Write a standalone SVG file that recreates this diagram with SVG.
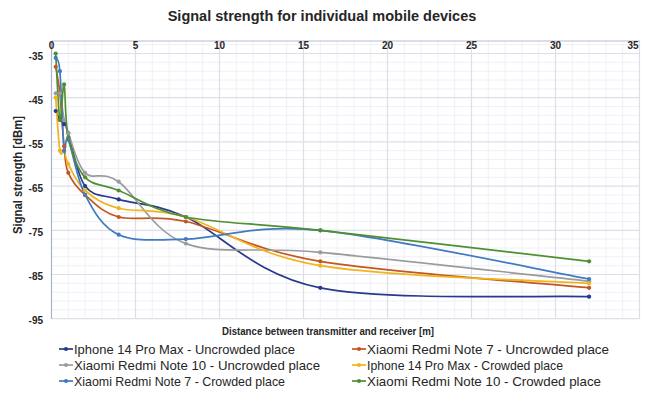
<svg xmlns="http://www.w3.org/2000/svg" width="645" height="394" viewBox="0 0 645 394">
<style>
text{font-family:"Liberation Sans",Arial,sans-serif;fill:#262626}
.t{font-size:14.5px;font-weight:bold;text-anchor:middle}
.ax{font-size:11.5px;font-weight:bold}
.tk{font-size:10px;font-weight:bold}
.tx{text-anchor:middle}
.ty{text-anchor:end}
.lg{font-size:13px}
.mn{stroke:#eef0f6;stroke-width:1}
.mj{stroke:#dcdfe9;stroke-width:1.2}
.s{fill:none;stroke-width:1.7}
.nv{stroke:#283a8c}.nvf{fill:#283a8c}
.rd{stroke:#c4561f}.rdf{fill:#c4561f}
.gr{stroke:#9b9b9b}.grf{fill:#9b9b9b}
.yl{stroke:#f0b41c}.ylf{fill:#f0b41c}
.bl{stroke:#3f7ac2}.blf{fill:#3f7ac2}
.gn{stroke:#4f8f31}.gnf{fill:#4f8f31}
</style>
<defs>
<g id="m"><circle r="2.1"/></g>
</defs>
<rect width="645" height="394" fill="#fff"/>
<text class="t" x="322" y="21">Signal strength for individual mobile devices</text>
<g id="grid">
<g class="mn">
<path d="M68.3 41V319M85.1 41V319M101.9 41V319M118.7 41V319M152.3 41V319M169.1 41V319M185.9 41V319M202.7 41V319M236.3 41V319M253.1 41V319M269.9 41V319M286.7 41V319M320.3 41V319M337.1 41V319M353.9 41V319M370.7 41V319M404.3 41V319M421.1 41V319M437.9 41V319M454.7 41V319M488.3 41V319M505.1 41V319M521.9 41V319M538.7 41V319M572.3 41V319M589.1 41V319M605.9 41V319M622.7 41V319"/>
<path d="M51.5 44.7H640M51.5 62.3H640M51.5 71.2H640M51.5 80.0H640M51.5 88.9H640M51.5 106.6H640M51.5 115.4H640M51.5 124.2H640M51.5 133.1H640M51.5 150.7H640M51.5 159.6H640M51.5 168.4H640M51.5 177.3H640M51.5 194.9H640M51.5 203.8H640M51.5 212.6H640M51.5 221.5H640M51.5 239.1H640M51.5 248.0H640M51.5 256.8H640M51.5 265.7H640M51.5 283.3H640M51.5 292.2H640M51.5 301.0H640M51.5 309.9H640"/>
</g>
<g class="mj">
<path d="M135.5 41V319M219.5 41V319M303.5 41V319M387.5 41V319M471.5 41V319M555.5 41V319M639.5 41V319"/>
<path d="M51.5 53.5H640M51.5 97.7H640M51.5 141.9H640M51.5 186.1H640M51.5 230.3H640M51.5 274.5H640M51.5 318.7H640"/>
</g>
<path d="M51.5 41H640" stroke="#b5bdd3" stroke-width="1.2"/>
<path d="M51.5 41V319" stroke="#a9b3cd" stroke-width="1.2"/>
</g>
<g id="ticks" class="tk">
<text class="tx" x="51.5" y="49">0</text>
<text class="tx" x="135.5" y="49">5</text>
<text class="tx" x="219.5" y="49">10</text>
<text class="tx" x="303.5" y="49">15</text>
<text class="tx" x="387.5" y="49">20</text>
<text class="tx" x="471.5" y="49">25</text>
<text class="tx" x="555.5" y="49">30</text>
<text class="tx" x="633" y="49">35</text>
<text class="ty" x="43" y="59.5">-35</text>
<text class="ty" x="43" y="103.5">-45</text>
<text class="ty" x="43" y="147.5">-55</text>
<text class="ty" x="43" y="191.5">-65</text>
<text class="ty" x="43" y="235.5">-75</text>
<text class="ty" x="43" y="279.5">-85</text>
<text class="ty" x="43" y="323.5">-95</text>
</g>
<text class="ax" transform="translate(21.5 175) rotate(-90)" text-anchor="middle" style="font-size:12.5px" textLength="118" lengthAdjust="spacingAndGlyphs">Signal strength [dBm]</text>
<text class="ax" x="328" y="335" text-anchor="middle" textLength="212" lengthAdjust="spacingAndGlyphs">Distance between transmitter and receiver [m]</text>
<g id="connectors">
<path id="s-navy" class="s nv" d="M55.7 111.0C56.4 112.5 58.5 117.6 59.9 119.8C61.3 122.0 62.7 122.0 64.1 124.2C65.5 126.4 64.8 122.8 68.3 133.1C71.8 143.4 76.7 175.1 85.1 186.1C93.5 197.2 101.9 194.3 118.7 199.4C135.5 204.6 152.3 202.3 185.9 217.0C219.5 231.7 253.1 274.5 320.3 287.8C387.5 301.1 544.3 295.2 589.1 296.7"/>
<path id="s-red" class="s rd" d="M55.7 66.8C56.4 71.2 58.5 80.1 59.9 93.3C61.3 106.6 62.7 133.1 64.1 146.3C65.5 159.6 64.8 164.7 68.3 172.8C71.8 180.9 76.7 187.5 85.1 194.9C93.5 202.3 101.9 212.6 118.7 217.0C135.5 221.4 152.3 214.1 185.9 221.5C219.5 228.9 253.1 250.3 320.3 261.3C387.5 272.4 544.3 283.4 589.1 287.8"/>
<path id="s-gray" class="s gr" d="M55.7 93.3C56.4 93.3 58.5 88.9 59.9 93.3C61.3 97.7 62.7 113.2 64.1 119.8C65.5 126.4 64.8 124.3 68.3 133.1C71.8 141.9 76.7 164.7 85.1 172.8C93.5 180.9 101.9 169.9 118.7 181.7C135.5 193.5 152.3 231.8 185.9 243.6C219.5 255.4 253.1 246.1 320.3 252.4C387.5 258.7 544.3 276.4 589.1 281.2"/>
<path id="s-yellow" class="s yl" d="M55.7 97.7C56.4 106.5 58.5 141.9 59.9 150.7C61.3 159.5 62.7 148.5 64.1 150.7C65.5 152.9 64.8 157.4 68.3 164.0C71.8 170.6 76.7 183.1 85.1 190.5C93.5 197.9 101.9 203.8 118.7 208.2C135.5 212.6 152.3 207.4 185.9 217.0C219.5 226.6 253.1 254.6 320.3 265.7C387.5 276.8 544.3 280.5 589.1 283.4"/>
<path id="s-blue" class="s bl" d="M55.7 57.9C56.4 60.1 58.5 55.7 59.9 71.2C61.3 86.7 62.7 139.3 64.1 150.7C65.5 162.1 64.8 132.3 68.3 139.7C71.8 147.1 76.7 179.1 85.1 194.9C93.5 210.7 101.9 227.3 118.7 234.7C135.5 242.1 152.3 239.8 185.9 239.1C219.5 238.4 253.1 223.7 320.3 230.3C387.5 236.9 544.3 270.9 589.1 279.0"/>
<path id="s-green" class="s gn" d="M55.7 53.5C56.4 64.6 58.5 114.7 59.9 119.8C61.3 125.0 62.7 81.5 64.1 84.4C65.5 87.4 64.8 122.0 68.3 137.5C71.8 153.0 76.7 168.5 85.1 177.3C93.5 186.1 101.9 183.9 118.7 190.5C135.5 197.1 152.3 210.4 185.9 217.0C219.5 223.6 253.1 222.9 320.3 230.3C387.5 237.7 544.3 256.1 589.1 261.3"/>
</g>
<g id="markers">
<g class="nvf"><use href="#m" x="55.7" y="111.0"/><use href="#m" x="59.9" y="119.8"/><use href="#m" x="64.1" y="124.2"/><use href="#m" x="68.3" y="133.1"/><use href="#m" x="85.1" y="186.1"/><use href="#m" x="118.7" y="199.4"/><use href="#m" x="185.9" y="217.0"/><use href="#m" x="320.3" y="287.8"/><use href="#m" x="589.1" y="296.7"/></g>
<g class="rdf"><use href="#m" x="55.7" y="66.8"/><use href="#m" x="59.9" y="93.3"/><use href="#m" x="64.1" y="146.3"/><use href="#m" x="68.3" y="172.8"/><use href="#m" x="85.1" y="194.9"/><use href="#m" x="118.7" y="217.0"/><use href="#m" x="185.9" y="221.5"/><use href="#m" x="320.3" y="261.3"/><use href="#m" x="589.1" y="287.8"/></g>
<g class="grf"><use href="#m" x="55.7" y="93.3"/><use href="#m" x="59.9" y="93.3"/><use href="#m" x="64.1" y="119.8"/><use href="#m" x="68.3" y="133.1"/><use href="#m" x="85.1" y="172.8"/><use href="#m" x="118.7" y="181.7"/><use href="#m" x="185.9" y="243.6"/><use href="#m" x="320.3" y="252.4"/><use href="#m" x="589.1" y="281.2"/></g>
<g class="ylf"><use href="#m" x="55.7" y="97.7"/><use href="#m" x="59.9" y="150.7"/><use href="#m" x="64.1" y="150.7"/><use href="#m" x="68.3" y="164.0"/><use href="#m" x="85.1" y="190.5"/><use href="#m" x="118.7" y="208.2"/><use href="#m" x="185.9" y="217.0"/><use href="#m" x="320.3" y="265.7"/><use href="#m" x="589.1" y="283.4"/></g>
<g class="blf"><use href="#m" x="55.7" y="57.9"/><use href="#m" x="59.9" y="71.2"/><use href="#m" x="64.1" y="150.7"/><use href="#m" x="68.3" y="139.7"/><use href="#m" x="85.1" y="194.9"/><use href="#m" x="118.7" y="234.7"/><use href="#m" x="185.9" y="239.1"/><use href="#m" x="320.3" y="230.3"/><use href="#m" x="589.1" y="279.0"/></g>
<g class="gnf"><use href="#m" x="55.7" y="53.5"/><use href="#m" x="59.9" y="119.8"/><use href="#m" x="64.1" y="84.4"/><use href="#m" x="68.3" y="137.5"/><use href="#m" x="85.1" y="177.3"/><use href="#m" x="118.7" y="190.5"/><use href="#m" x="185.9" y="217.0"/><use href="#m" x="320.3" y="230.3"/><use href="#m" x="589.1" y="261.3"/></g>
</g>
<g id="legend" class="lg">
<g id="lg1"><path class="s nv" d="M59 349H73"/><use class="nvf" href="#m" x="66" y="349"/><text x="74" y="353.5" textLength="221" lengthAdjust="spacingAndGlyphs">Iphone 14 Pro Max - Uncrowded place</text></g>
<g id="lg2"><path class="s rd" d="M352 349H366"/><use class="rdf" href="#m" x="359" y="349"/><text x="367" y="353.5" textLength="242" lengthAdjust="spacingAndGlyphs">Xiaomi Redmi Note 7 - Uncrowded place</text></g>
<g id="lg3"><path class="s gr" d="M59 365H73"/><use class="grf" href="#m" x="66" y="365"/><text x="74" y="369.5" textLength="246" lengthAdjust="spacingAndGlyphs">Xiaomi Redmi Note 10 - Uncrowded place</text></g>
<g id="lg4"><path class="s yl" d="M352 365H366"/><use class="ylf" href="#m" x="359" y="365"/><text x="367" y="369.5" textLength="196" lengthAdjust="spacingAndGlyphs">Iphone 14 Pro Max - Crowded place</text></g>
<g id="lg5"><path class="s bl" d="M59 381H73"/><use class="blf" href="#m" x="66" y="381"/><text x="74" y="385.5" textLength="211" lengthAdjust="spacingAndGlyphs">Xiaomi Redmi Note 7 - Crowded place</text></g>
<g id="lg6"><path class="s gn" d="M352 381H366"/><use class="gnf" href="#m" x="359" y="381"/><text x="367" y="385.5" textLength="234" lengthAdjust="spacingAndGlyphs">Xiaomi Redmi Note 10 - Crowded place</text></g>
</g>
</svg>
